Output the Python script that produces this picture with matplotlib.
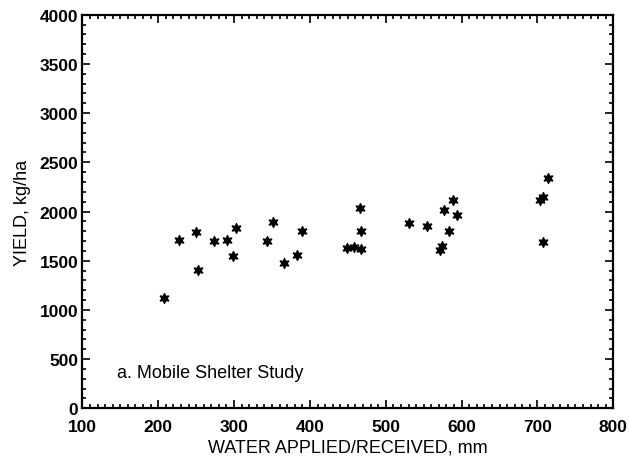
import numpy as np
import matplotlib.pyplot as plt
from matplotlib.ticker import MultipleLocator

plt.rcParams['font.family'] = ['Liberation Sans', 'DejaVu Sans']

# water applied/received (mm) and yield (kg/ha)
water = [208, 228, 250, 253, 274, 291, 298, 303, 343, 351,
         366, 383, 389, 449, 458, 468, 466, 468,
         531, 555, 577, 589, 594, 583, 574, 572,
         703, 707, 714, 707]
yld = [1120, 1715, 1790, 1410, 1700, 1715, 1550, 1830, 1705, 1890,
       1475, 1555, 1805, 1625, 1640, 1615, 2040, 1805,
       1885, 1855, 2020, 2115, 1960, 1800, 1650, 1605,
       2120, 2145, 2340, 1685]

fig = plt.figure(figsize=(6.29, 4.64), dpi=100)
ax = fig.add_axes([0.131, 0.118, 0.844, 0.848])

ax.plot(water, yld, linestyle='none', marker=(6, 1, 0), markersize=7.5,
        color='black', markeredgewidth=0.8)

ax.set_xlim(100, 800)
ax.set_ylim(0, 4000)
ax.xaxis.set_major_locator(MultipleLocator(100))
ax.xaxis.set_minor_locator(MultipleLocator(10))
ax.yaxis.set_major_locator(MultipleLocator(500))
ax.yaxis.set_minor_locator(MultipleLocator(100))

ax.tick_params(which='both', direction='in', top=True, right=True, width=1.2)
ax.tick_params(which='major', length=6, labelsize=12.5)
ax.tick_params(axis='x', which='major', pad=8)
ax.tick_params(axis='y', which='major', pad=3)
ax.tick_params(which='minor', length=3)
for lab in ax.get_xticklabels() + ax.get_yticklabels():
    lab.set_fontweight('bold')
for sp in ax.spines.values():
    sp.set_linewidth(1.6)

ax.set_xlabel('WATER APPLIED/RECEIVED, mm', fontsize=13, labelpad=3)
ax.set_ylabel('YIELD, kg/ha', fontsize=13, labelpad=6)

ax.text(145, 360, 'a. Mobile Shelter Study', fontsize=13, va='center', ha='left')

fig.savefig('out.png', dpi=100)
